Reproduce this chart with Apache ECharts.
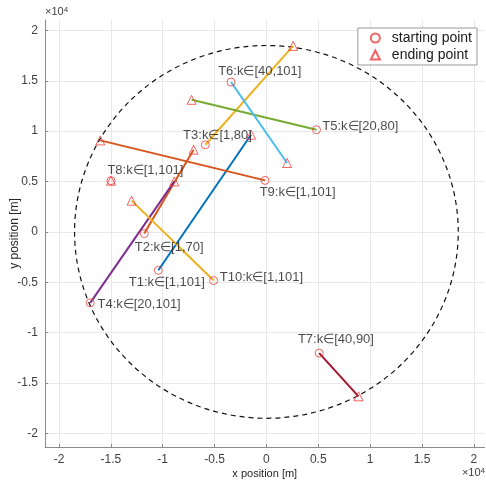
<!DOCTYPE html>
<html>
<head>
<meta charset="utf-8">
<script src="https://cdn.jsdelivr.net/npm/echarts@6/dist/echarts.min.js"></script>
<style>
  html, body { margin: 0; padding: 0; background: #fff; }
  #chart { width: 486px; height: 486px; }
</style>
</head>
<body>
<div id="chart"></div>
<script>
// trajectories, in metres
const trajNames = ['T1', 'T2', 'T3', 'T4', 'T5', 'T6', 'T7', 'T8', 'T9', 'T10'];
const kRanges = ['[1,101]', '[1,70]', '[1,80]', '[20,101]', '[20,80]', '[40,101]', '[40,90]', '[1,101]', '[1,101]', '[1,101]'];
const startX = [-10420, -11780, -5890, -16990, 4830, -3410, 5090, -14990, -130, -5090];
const startY = [-3810, -170, 8650, -7040, 10140, 14870, -12030, 5080, 5110, -4830];
const endX = [-1480, -7020, 2580, -8880, -7210, 2000, 8880, -14990, -16020, -13000];
const endY = [9640, 8160, 18460, 5010, 13110, 6840, -16320, 5080, 9080, 3100];
// where each text label starts (data coords)
const labelX = [-13320, -12740, -8080, -16340, 5340, -4700, 2990, -15380, -700, -4540];
const labelY = [-5050, -1590, 9540, -7230, 10440, 15920, -10700, 6110, 3920, -4560];
const lineColors = ['#0072BD', '#D95319', '#EDB120', '#7E2F8E', '#77AC30', '#4DBEEE', '#A2142F', '#0072BD', '#D95319', '#EDB120'];
const circleRadius = 18500;
const tickLabels = ['-2', '-1.5', '-1', '-0.5', '0', '0.5', '1', '1.5', '2'];

let myChart = echarts.init(document.getElementById('chart'));

const FONT = 'Liberation Sans, Arial, sans-serif';

function tickFmt(v) {
    let idx = Math.round(v / 5000);
    if (Math.abs(v - idx * 5000) > 1) return '';
    let lab = tickLabels[idx + 4];
    return lab !== undefined ? lab : '';
}

function makeAxis(name, gap, nameSize) {
    return {
        type: 'value',
        min: -21350,
        max: 21030,
        splitNumber: 8,
        name: name,
        nameLocation: 'middle',
        nameGap: gap,
        nameMoveOverlap: false,
        nameTextStyle: { color: '#262626', fontSize: nameSize, fontFamily: FONT },
        axisLine: { show: true, onZero: false, lineStyle: { color: '#8a8a8a', width: 1 } },
        axisTick: { show: true, inside: true, length: 3, lineStyle: { color: '#8a8a8a' } },
        axisLabel: { color: '#404040', fontSize: 12, fontFamily: FONT, formatter: tickFmt, margin: 7,
                     showMinLabel: false, showMaxLabel: false },
        splitLine: { show: true, showMinLine: false, showMaxLine: false, lineStyle: { color: '#e8e8e8', width: 1 } }
    };
}

let series = [];

// dashed reference circle
series.push({
    type: 'custom',
    silent: true,
    z: 1,
    data: [[0, 0]],
    renderItem: function (params, api) {
        let c = api.coord([0, 0]);
        let s = api.size([circleRadius, circleRadius]);
        return {
            type: 'path',
            shape: {
                pathData: 'M0,1A1,1,0,1,0,2,1A1,1,0,1,0,0,1Z',
                x: c[0] - s[0],
                y: c[1] - s[1],
                width: 2 * s[0],
                height: 2 * s[1],
                layout: 'cover'
            },
            style: { fill: 'none', stroke: '#111', lineWidth: 1.2, lineDash: [5, 4] }
        };
    }
});

trajNames.forEach(function (n, i) {
    series.push({
        name: n,
        type: 'line',
        silent: true,
        z: 2,
        showSymbol: false,
        symbol: 'none',
        data: [[startX[i], startY[i]], [endX[i], endY[i]]],
        lineStyle: { color: lineColors[i], width: 2 }
    });
});

series.push({
    name: 'starting point',
    type: 'scatter',
    z: 3,
    symbol: 'circle',
    symbolSize: 8,
    itemStyle: { color: 'rgba(0,0,0,0)', borderColor: '#f03c3c', borderWidth: 1 },
    data: startX.map(function (x, i) { return [x, startY[i]]; })
});

series.push({
    name: 'ending point',
    type: 'scatter',
    z: 3,
    symbol: 'triangle',
    symbolSize: 9,
    itemStyle: { color: 'rgba(0,0,0,0)', borderColor: '#f03c3c', borderWidth: 1 },
    data: endX.map(function (x, i) { return [x, endY[i]]; })
});

series.push({
    name: 'labels',
    type: 'scatter',
    silent: true,
    z: 4,
    symbolSize: 1,
    itemStyle: { color: 'rgba(0,0,0,0)' },
    label: {
        show: true,
        position: 'right',
        distance: 0,
        color: '#1a1a1a',
        fontSize: 13,
        fontFamily: FONT,
        formatter: function (p) { return trajNames[p.dataIndex] + ':k\u2208' + kRanges[p.dataIndex]; }
    },
    labelLayout: { hideOverlap: false },
    data: labelX.map(function (x, i) { return [x, labelY[i]]; })
});

let option = {
    animation: false,
    backgroundColor: '#fff',
    grid: { left: 45, right: 1.5, top: 20, bottom: 39, containLabel: false, outerBoundsMode: 'none' },
    xAxis: makeAxis('x position [m]', 21, 11),
    yAxis: makeAxis('y position [m]', 24, 12),
    legend: {
        data: ['starting point', 'ending point'],
        orient: 'vertical',
        right: 9,
        top: 28,
        padding: [3, 5, 3, 12],
        itemWidth: 9,
        itemHeight: 9,
        itemGap: 3,
        backgroundColor: '#fff',
        borderColor: '#999',
        borderWidth: 1,
        borderRadius: 0,
        textStyle: { color: '#1a1a1a', fontSize: 14, fontFamily: FONT, padding: [0, 0, 0, 7] }
    },
    graphic: [
        {
            type: 'text', left: 45, top: 6,
            style: {
                text: '\u00d710{sup|4}', fill: '#404040', font: '11px ' + FONT,
                rich: { sup: { fontSize: 8, verticalAlign: 'top', fill: '#404040' } }
            }
        },
        {
            type: 'text', right: 1, top: 467,
            style: {
                text: '\u00d710{sup|4}', fill: '#404040', font: '11px ' + FONT,
                rich: { sup: { fontSize: 8, verticalAlign: 'top', fill: '#404040' } }
            }
        }
    ],
    series: series
};

myChart.setOption(option);
</script>
</body>
</html>
